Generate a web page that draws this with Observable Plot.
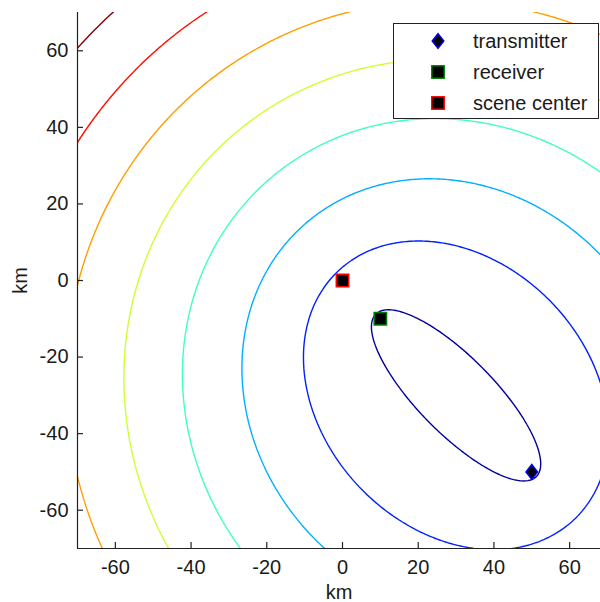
<!DOCTYPE html>
<html><head><meta charset="utf-8">
<script src="https://cdn.jsdelivr.net/npm/d3@7"></script>
<script src="https://cdn.jsdelivr.net/npm/@observablehq/plot@0.6"></script>
<style>
html,body{margin:0;padding:0;background:#fff;}
#wrap{position:relative;width:600px;height:602px;overflow:hidden;font-family:"Liberation Sans",Arial,sans-serif;}
#legend{position:absolute;left:393px;top:23px;width:206px;height:96px;border:1px solid #222;background:#fff;box-sizing:border-box;}
.row{position:absolute;left:0;width:100%;height:30px;}
.row svg{position:absolute;left:35px;top:6px;}
.row span{position:absolute;left:79px;top:0;line-height:30px;font-size:20px;color:#1a1a1a;white-space:nowrap;}
</style></head><body><div id="wrap"></div>
<script>
// Geometry (km)
const transmitter = [50, -50];
const receiver = [10, -10];
const sceneCenter = [0, 0];
// Bistatic range-sum contour levels (km)
const levels = [60, 90, 120, 150, 180, 210, 240, 270];
const levelColors = ["#0000a0", "#0020ff", "#00afff", "#40ffbf", "#cfff30", "#ff9f00", "#ff1000", "#800000"];
const xDomain = [-70, 70];
const yDomain = [-70, 70];
const xTicks = [-60, -40, -20, 0, 20, 40, 60];
const yTicks = [-60, -40, -20, 0, 20, 40, 60];
const legendLabels = ["transmitter", "receiver", "scene center"];

const FONT = '"Liberation Sans", Arial, sans-serif';
const dist = (x, y, p) => Math.hypot(x - p[0], y - p[1]);
const rangeSum = (x, y) => dist(x, y, transmitter) + dist(x, y, receiver);
// sample a little beyond the visible domain so contour borders fall outside the clip
const pad = 3;

const tallDiamond = {
  draw(ctx) {
    const w = 5.8, h = 7.4;
    ctx.moveTo(0, -h); ctx.lineTo(w, 0); ctx.lineTo(0, h); ctx.lineTo(-w, 0); ctx.closePath();
  }
};

const plot = Plot.plot({
  width: 600,
  height: 602,
  marginLeft: 77,
  marginRight: 0,
  marginTop: 12,
  marginBottom: 54,
  style: {fontFamily: FONT, fontSize: "20px", overflow: "hidden", background: "transparent", color: "#1a1a1a"},
  x: {domain: xDomain, range: [77, 607], axis: null},
  y: {domain: yDomain, range: [548, 12], axis: null},
  color: {type: "ordinal", domain: levels, range: levelColors},
  marks: [
    Plot.contour({
      value: rangeSum,
      x1: xDomain[0] - pad, x2: xDomain[1] + pad, y1: yDomain[0] - pad, y2: yDomain[1] + pad,
      thresholds: levels,
      stroke: "value",
      fill: "none",
      strokeWidth: 1.4,
      clip: true
    }),
    Plot.ruleY([yDomain[0]], {x1: xDomain[0], x2: xDomain[1], stroke: "#222", strokeWidth: 1.2}),
    Plot.ruleX([xDomain[0]], {y1: yDomain[0], y2: yDomain[1], stroke: "#222", strokeWidth: 1.2}),
    Plot.axisX(xTicks, {tickSize: -6, tickFormat: () => "", stroke: "#222", strokeWidth: 1.2}),
    Plot.axisX(xTicks, {tickSize: 0, tickPadding: 11, tickFormat: (d) => String(d), fontSize: 20, fill: "#1a1a1a",
      label: "km", labelAnchor: "center", labelArrow: false, labelOffset: 50}),
    Plot.axisY(yTicks, {tickSize: -6, tickFormat: () => "", stroke: "#222", strokeWidth: 1.2}),
    Plot.axisY(yTicks, {tickSize: 0, tickPadding: 9, tickFormat: (d) => String(d), fontSize: 20, fill: "#1a1a1a",
      label: "km", labelAnchor: "center", labelArrow: false, labelOffset: 65}),
    Plot.dot([transmitter], {x: (d) => d[0], y: (d) => d[1], symbol: tallDiamond, fill: "black", stroke: "#0000ff", strokeWidth: 1.5}),
    Plot.dot([receiver], {x: (d) => d[0], y: (d) => d[1], symbol: "square", r: 7, fill: "black", stroke: "#008000", strokeWidth: 1.5}),
    Plot.dot([sceneCenter], {x: (d) => d[0], y: (d) => d[1], symbol: "square", r: 7, fill: "black", stroke: "#ff0000", strokeWidth: 1.5})
  ]
});

const wrap = document.getElementById("wrap");
wrap.appendChild(plot);

// Legend
const legendMarkers = [
  '<svg width="18" height="18" viewBox="-9 -9 18 18"><path d="M0,-7.4L5.8,0L0,7.4L-5.8,0Z" fill="black" stroke="#0000ff" stroke-width="1.5"/></svg>',
  '<svg width="18" height="18" viewBox="-9 -9 18 18"><rect x="-6.2" y="-6.2" width="12.4" height="12.4" fill="black" stroke="#008000" stroke-width="1.5"/></svg>',
  '<svg width="18" height="18" viewBox="-9 -9 18 18"><rect x="-6.2" y="-6.2" width="12.4" height="12.4" fill="black" stroke="#ff0000" stroke-width="1.5"/></svg>'
];
const legend = document.createElement("div");
legend.id = "legend";
const rowTops = [2, 33, 63.5];
legendLabels.forEach((label, i) => {
  const row = document.createElement("div");
  row.className = "row";
  row.style.top = rowTops[i] + "px";
  row.innerHTML = legendMarkers[i] + "<span></span>";
  row.querySelector("span").textContent = label;
  legend.appendChild(row);
});
wrap.appendChild(legend);
</script>
</body></html>
